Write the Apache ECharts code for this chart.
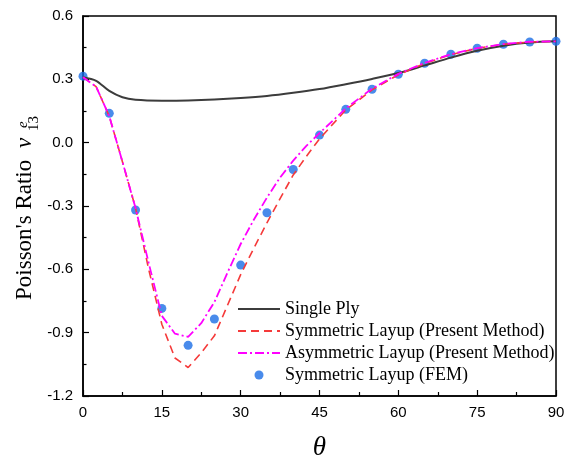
<!DOCTYPE html>
<html>
<head>
<meta charset="UTF-8">
<title>Poisson's Ratio</title>
<script src="https://cdn.jsdelivr.net/npm/echarts@6/dist/echarts.min.js"></script>
<style>
  html, body { margin: 0; padding: 0; background: #fff; }
  #chart { width: 572px; height: 459px; }
</style>
</head>
<body>
<div id="chart"></div>
<script>
// ply angle theta (deg) against effective Poisson's ratio v13
var singleAngle = [0, 2.5, 5, 7.5, 10, 15, 20, 25, 30, 35, 40, 45, 50, 55, 60, 65, 70, 75, 80, 85, 90];
var singlePly = [0.31, 0.293, 0.245, 0.215, 0.203, 0.199, 0.2, 0.204, 0.211, 0.221, 0.236, 0.254, 0.277, 0.302, 0.33, 0.366, 0.403, 0.435, 0.459, 0.474, 0.48];

var lineAngle = [0, 2.5, 5, 7.5, 10, 12.5, 15, 17.5, 20, 22.5, 25, 27.5, 30, 32.5, 35, 37.5, 40, 42.5, 45, 50, 55, 60, 65, 70, 75, 80, 85, 90];
var symPresent = [0.31, 0.265, 0.125, -0.09, -0.31, -0.6, -0.86, -1.02, -1.065, -0.995, -0.915, -0.77, -0.625, -0.5, -0.38, -0.265, -0.153, -0.065, 0.018, 0.155, 0.25, 0.322, 0.375, 0.417, 0.447, 0.466, 0.477, 0.48];
var asymPresent = [0.31, 0.265, 0.125, -0.09, -0.31, -0.57, -0.82, -0.905, -0.92, -0.855, -0.755, -0.615, -0.48, -0.365, -0.26, -0.165, -0.085, -0.015, 0.045, 0.162, 0.256, 0.326, 0.378, 0.419, 0.448, 0.467, 0.478, 0.48];

var femAngle = [0, 5, 10, 15, 20, 25, 30, 35, 40, 45, 50, 55, 60, 65, 70, 75, 80, 85, 90];
var symFem = [0.315, 0.139, -0.319, -0.785, -0.96, -0.835, -0.58, -0.332, -0.127, 0.036, 0.158, 0.253, 0.324, 0.376, 0.419, 0.447, 0.466, 0.477, 0.48];

var names = ['Single Ply', 'Symmetric Layup (Present Method)', 'Asymmetric Layup (Present Method)', 'Symmetric Layup (FEM)'];

function pairs(xs, ys) {
  return xs.map(function (x, i) { return [x, ys[i]]; });
}

var chart = echarts.init(document.getElementById('chart'), null, { renderer: 'canvas' });

var serif = '"Liberation Serif", "Times New Roman", serif';
var sans = '"Liberation Sans", Arial, sans-serif';

chart.setOption({
  animation: false,
  backgroundColor: '#fff',
  grid: {
    left: 83, right: 16, top: 16, bottom: 63,
    outerBoundsMode: 'none',
    show: true, borderColor: '#000', borderWidth: 1.5, backgroundColor: 'transparent'
  },
  legend: {
    orient: 'vertical',
    left: 237, top: 300, padding: 0,
    itemWidth: 42, itemHeight: 9, itemGap: 4,
    textStyle: { fontFamily: serif, fontSize: 18, color: '#000' },
    data: [
      { name: names[0], itemStyle: { opacity: 0 } },
      { name: names[1], itemStyle: { opacity: 0 } },
      { name: names[2], itemStyle: { opacity: 0 } },
      { name: names[3] }
    ]
  },
  xAxis: {
    type: 'value', min: 0, max: 90, interval: 15,
    name: 'θ', nameLocation: 'middle', nameGap: 38,
    nameTextStyle: { fontFamily: serif, fontStyle: 'italic', fontSize: 27, color: '#000' },
    axisLine: { onZero: false, lineStyle: { color: '#000', width: 1.5 } },
    axisTick: { inside: true, length: 6, lineStyle: { color: '#000', width: 1.2 } },
    minorTick: { show: true, splitNumber: 2, length: 4, lineStyle: { color: '#000', width: 1.2 } },
    axisLabel: { fontFamily: sans, fontSize: 15, color: '#000', margin: 9 },
    splitLine: { show: false }
  },
  yAxis: {
    type: 'value', min: -1.2, max: 0.6, interval: 0.3,
    axisLine: { onZero: false, lineStyle: { color: '#000', width: 1.5 } },
    axisTick: { inside: true, length: 6, lineStyle: { color: '#000', width: 1.2 } },
    minorTick: { show: true, splitNumber: 2, length: 3.5, lineStyle: { color: '#000', width: 1.2 } },
    axisLabel: {
      fontFamily: sans, fontSize: 15, color: '#000', margin: 10,
      formatter: function (v) { return (Math.abs(v) < 1e-9 ? 0 : v).toFixed(1); }
    },
    splitLine: { show: false }
  },
  graphic: [{
    type: 'group',
    x: 33, y: 300,
    rotation: Math.PI / 2,
    children: [
      { type: 'text', x: 0, y: -8, style: { text: "Poisson's Ratio", font: '23px ' + serif, fill: '#000', verticalAlign: 'middle' } },
      { type: 'text', x: 152, y: -8, style: { text: 'ν', font: 'italic 23px ' + serif, fill: '#000', verticalAlign: 'middle' } },
      { type: 'text', x: 172, y: -10, style: { text: 'e', font: 'italic 15px ' + serif, fill: '#000', verticalAlign: 'middle' } },
      { type: 'text', x: 169, y: 1, style: { text: '13', font: '15px ' + serif, fill: '#000', verticalAlign: 'middle' } }
    ]
  }],
  series: [
    {
      name: names[0], type: 'line', smooth: 0.3, symbol: 'none',
      lineStyle: { color: '#3c3c3c', width: 2 },
      itemStyle: { color: '#3c3c3c' },
      data: pairs(singleAngle, singlePly)
    },
    {
      name: names[1], type: 'line', symbol: 'none',
      lineStyle: { color: '#f53a3a', width: 1.6, type: [8, 5] },
      itemStyle: { color: '#f53a3a' },
      data: pairs(lineAngle, symPresent)
    },
    {
      name: names[2], type: 'line', symbol: 'none',
      lineStyle: { color: '#ff00ff', width: 1.8, type: [9, 3, 2, 3] },
      itemStyle: { color: '#ff00ff' },
      data: pairs(lineAngle, asymPresent)
    },
    {
      name: names[3], type: 'scatter', symbol: 'circle', symbolSize: 9,
      itemStyle: { color: '#1c6ee6' },
      data: pairs(femAngle, symFem)
    }
  ]
});
</script>
</body>
</html>
